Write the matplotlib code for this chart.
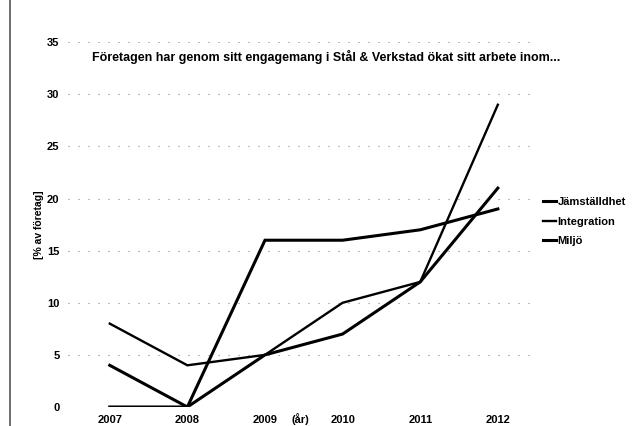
import matplotlib.pyplot as plt
from matplotlib.lines import Line2D

# Data
years = [2007, 2008, 2009, 2010, 2011, 2012]
jamstalldhet = [4, 0, 16, 16, 17, 19]
integration = [8, 4, 5, 10, 12, 29]
miljo = [0, 0, 5, 7, 12, 21]
series_names = ['Jämställdhet', 'Integration', 'Miljö']
y_ticks = [0, 5, 10, 15, 20, 25, 30, 35]

plt.rcParams['font.family'] = ['Liberation Sans Narrow', 'Liberation Sans', 'DejaVu Sans']

fig = plt.figure(figsize=(6.34, 4.26), dpi=100)
ax = fig.add_axes([0.107, 0.0446, 0.737, 0.8564])

for vals, name, lw in zip([jamstalldhet, integration, miljo], series_names, [2.2, 1.7, 2.2]):
    ax.plot(years, vals, color='black', linewidth=lw, label=name, solid_joinstyle='miter')

ax.set_xlim(2006.46, 2012.48)
ax.set_ylim(0, 35)
ax.set_yticks(y_ticks)
ax.set_xticks(years)
ax.set_xticklabels([str(y) for y in years])
ax.tick_params(length=0, labelsize=8, pad=6)
for lab in ax.get_xticklabels() + ax.get_yticklabels():
    lab.set_fontweight('bold')

# Sparse dotted gridlines, like the scan
ax.grid(axis='y', color='#888888', linestyle=(0, (1, 8)), linewidth=0.8)
ax.set_axisbelow(True)
for s in ax.spines.values():
    s.set_visible(False)

ax.text(2009.45, -1.15, '(år)', ha='center', va='center', fontsize=8, fontweight='bold')
ax.set_ylabel('[% av företag]', fontsize=7.5, fontweight='bold', labelpad=2)

fig.text(0.515, 0.866, 'Företagen har genom sitt engagemang i Stål & Verkstad ökat sitt arbete inom...',
         ha='center', va='center', fontsize=9, fontweight='bold')

ax.legend(loc='center left', bbox_to_anchor=(1.0, 0.508), frameon=False,
          handlelength=1.2, handletextpad=0.1, labelspacing=0.85, borderaxespad=0.3,
          prop={'weight': 'bold', 'size': 8})

# scan frame on the left edge
fig.add_artist(Line2D([0.016, 0.016], [0.0, 1.0], transform=fig.transFigure, color='#555555', linewidth=1.2))

fig.savefig('out.png', dpi=100)
